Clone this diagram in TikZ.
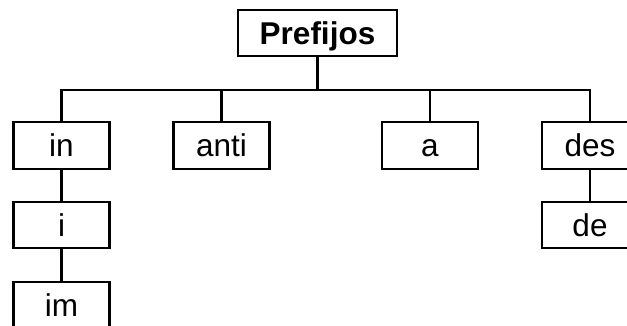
\documentclass[tikz,border=0pt]{standalone}
\usepackage{fontspec}
\setmainfont{Liberation Sans}
\begin{document}
\begin{tikzpicture}[x=1pt,y=-1pt,line width=2.3pt,
  box/.style={draw,rectangle,inner sep=0pt,minimum width=96pt,minimum height=46pt,
    font=\fontsize{31.5}{37}\selectfont,text height=22.5pt,text depth=0pt},
  conn/.style={draw,line width=2.3pt}]
\useasboundingbox (0,0) rectangle (627,326);
\node[box,minimum width=159pt,font=\fontsize{31.5}{37}\selectfont\bfseries,text height=24pt] (P) at (317.5,33) {Prefijos};
\node[box,minimum height=47pt] (in) at (61.5,145.5) {in};
\node[box,minimum height=47pt] (anti) at (221.5,145.5) {anti};
\node[box,minimum height=47pt] (a) at (430,145.5) {a};
\node[box,minimum height=47pt] (des) at (590,145.5) {des};
\node[box] (i) at (61.5,225) {i};
\node[box] (im) at (61.5,305) {im};
\node[box] (de) at (590,225) {de};
\coordinate (bus) at (317.5,90);
\draw[conn] (P.south) -- (bus);
\draw[conn] (in.north) |- (bus) -| (des.north);
\draw[conn] (anti.north) -- (anti.north |- bus);
\draw[conn] (a.north) -- (a.north |- bus);
\draw[conn] (in.south) -- (i.north);
\draw[conn] (i.south) -- (im.north);
\draw[conn] (des.south) -- (de.north);
\end{tikzpicture}
\end{document}
